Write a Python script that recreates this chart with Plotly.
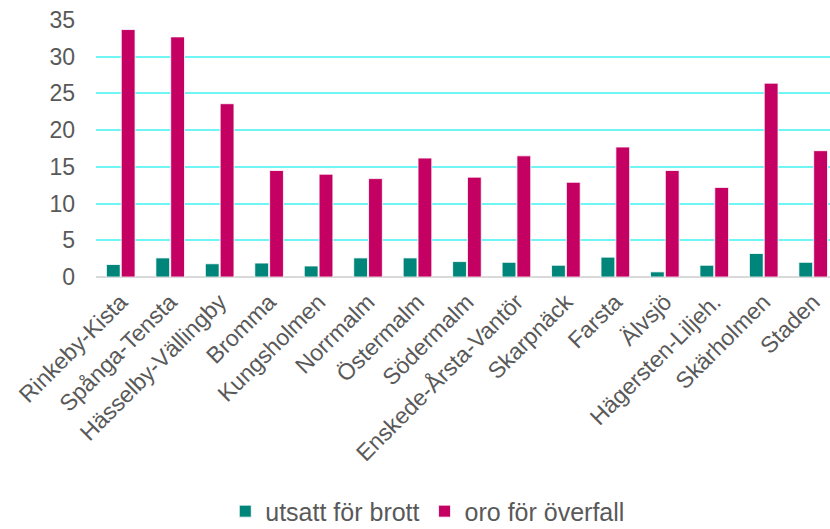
import plotly.graph_objects as go

categories = ["Rinkeby-Kista", "Spånga-Tensta", "Hässelby-Vällingby", "Bromma", "Kungsholmen",
              "Norrmalm", "Östermalm", "Södermalm", "Enskede-Årsta-Vantör", "Skarpnäck",
              "Farsta", "Älvsjö", "Hägersten-Liljeh.", "Skärholmen", "Staden"]
utsatt = [1.7, 2.6, 1.8, 1.9, 1.5, 2.6, 2.6, 2.1, 2.0, 1.6, 2.7, 0.7, 1.6, 3.2, 2.0]
oro = [33.7, 32.7, 23.6, 14.5, 14.0, 13.4, 16.2, 13.6, 16.5, 12.9, 17.7, 14.5, 12.2, 26.4, 17.2]
yticks = [0, 5, 10, 15, 20, 25, 30, 35]

FONT = "Liberation Sans, Arial, sans-serif"
GREY = "#595959"

fig = go.Figure()
fig.add_trace(go.Bar(x=categories, y=utsatt, name="utsatt för brott",
                     marker=dict(color="#00857A", line=dict(color="white", width=0.8))))
fig.add_trace(go.Bar(x=categories, y=oro, name="oro för överfall",
                     marker=dict(color="#C40062", line=dict(color="white", width=0.8))))

fig.update_layout(
    width=830, height=529,
    margin=dict(l=96, r=0, t=20, b=252, autoexpand=False),
    paper_bgcolor="white", plot_bgcolor="white",
    barmode="group", bargap=0.4, bargroupgap=0.07,
    font=dict(family=FONT, color=GREY, size=23),
    showlegend=True,
    legend=dict(orientation="h", x=0.452, xanchor="center", y=-0.912, yanchor="middle",
                font=dict(size=25, color=GREY), itemwidth=30, tracegroupgap=0),
    xaxis=dict(range=[-0.5, 14.34], tickangle=-45, showgrid=False, showline=False,
               automargin=False, tickfont=dict(size=23, color=GREY), ticks="",
               ticklabelstandoff=6),
    yaxis=dict(range=[0, 35], tickvals=yticks, showgrid=True, gridcolor="#70F5F5", gridwidth=1.5,
               zeroline=True, zerolinecolor="#D9D9D9", zerolinewidth=2, automargin=False,
               tickfont=dict(size=23, color=GREY), ticklabelstandoff=20, ticks=""),
)

fig.write_html("out.html", config={"displayModeBar": False},
               post_script="document.body.style.margin='0';document.body.style.overflow='hidden';")
